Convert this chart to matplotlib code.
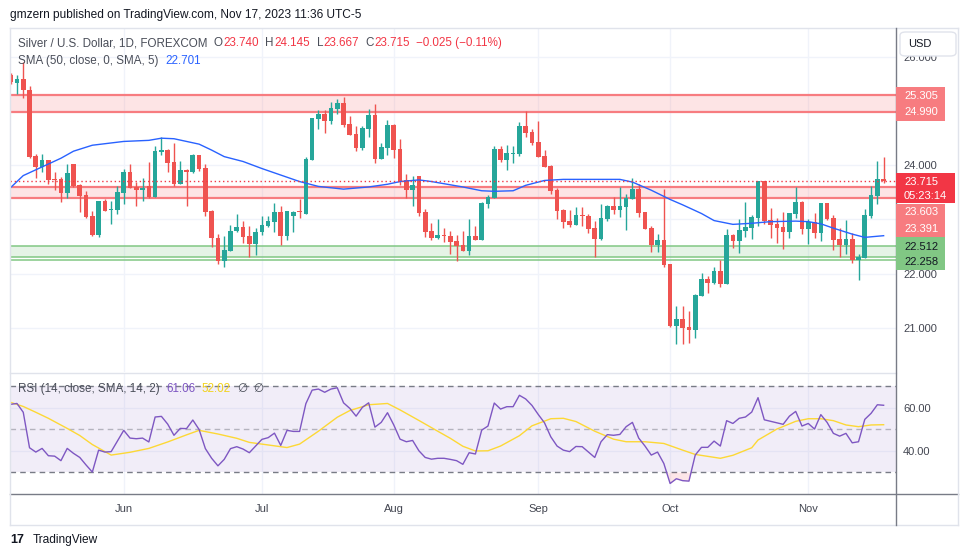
import numpy as np
import pandas as pd
import matplotlib
matplotlib.use("Agg")
from matplotlib import pyplot as plt
from matplotlib.patches import Rectangle, FancyBboxPatch
from matplotlib.lines import Line2D

plt.rcParams["font.family"] = ["Liberation Sans", "DejaVu Sans"]

# daily bars (weekdays) May 8 - Nov 17 2023
dates = pd.bdate_range("2023-05-08", "2023-11-17")

opens = [25.67, 25.52, 25.59, 25.39, 24.17, 23.96, 24.10, 23.75, 23.75, 23.48,
         24.02, 23.64, 23.45, 23.06, 22.71, 23.34, 23.18, 23.17, 23.49, 23.87,
         23.60, 23.54, 23.61, 23.41, 24.25, 24.28, 24.06, 23.66, 23.91, 23.88,
         24.19, 23.95, 23.16, 22.66, 22.24, 22.42, 22.78, 22.86, 22.69, 22.55,
         22.76, 22.88, 22.96, 23.14, 22.70, 23.07, 23.14, 23.10, 24.10, 24.85,
         24.95, 24.82, 25.04, 25.15, 24.76, 24.58, 24.32, 24.67, 24.93, 24.12,
         24.32, 24.74, 24.30, 23.72, 23.54, 23.80, 23.14, 22.79, 22.66, 22.71,
         22.70, 22.60, 22.53, 22.41, 22.70, 22.62, 23.29, 23.40, 24.30, 24.10,
         24.21, 24.21, 24.72, 24.61, 24.43, 24.17, 23.99, 23.54, 23.17, 22.97,
         22.90, 23.08, 23.06, 22.84, 22.64, 23.01, 23.25, 23.17, 23.23, 23.38,
         23.56, 23.14, 22.84, 22.53, 22.62, 22.18, 21.03, 21.16, 21.02, 20.96,
         21.59, 21.90, 21.83, 22.05, 21.81, 22.71, 22.60, 22.79, 22.84, 23.03,
         23.71, 22.99, 22.92, 22.86, 22.77, 23.10, 23.32, 22.82, 22.95, 22.75,
         23.30, 23.03, 22.64, 22.53, 22.64, 22.25, 22.29, 23.06, 23.44, 23.740]
highs = [25.70, 25.67, 25.91, 25.46, 24.21, 24.21, 24.10, 23.87, 23.78, 24.02,
         24.02, 23.65, 23.53, 23.16, 23.34, 23.37, 23.34, 23.62, 23.93, 24.02,
         23.70, 23.76, 24.06, 24.36, 24.52, 24.30, 24.41, 24.08, 23.93, 24.21,
         24.19, 24.02, 23.17, 22.73, 22.69, 22.90, 23.10, 22.97, 22.88, 22.84,
         23.06, 23.06, 23.30, 23.25, 23.16, 23.16, 23.38, 24.15, 24.87, 25.02,
         25.02, 25.17, 25.22, 25.26, 24.91, 24.72, 24.72, 25.04, 25.13, 24.41,
         24.84, 24.76, 24.48, 23.84, 23.80, 23.80, 23.19, 22.93, 23.01, 22.84,
         22.78, 22.71, 22.79, 23.01, 22.88, 23.32, 23.45, 24.36, 24.36, 24.37,
         24.36, 24.80, 25.00, 24.67, 24.82, 24.28, 24.01, 23.58, 23.19, 23.17,
         23.23, 23.23, 23.10, 22.97, 23.29, 23.27, 23.41, 23.60, 23.47, 23.77,
         23.65, 23.14, 22.88, 22.73, 23.56, 22.18, 21.40, 21.40, 21.31, 21.62,
         22.01, 21.96, 22.12, 22.25, 22.82, 22.73, 23.01, 23.32, 23.08, 23.71,
         23.71, 23.21, 23.03, 23.14, 23.12, 23.60, 23.34, 23.01, 23.12, 23.30,
         23.30, 23.08, 22.84, 22.99, 22.75, 22.36, 23.19, 23.62, 24.08, 24.145]
lows = [25.50, 25.31, 25.24, 24.13, 23.76, 23.88, 23.65, 23.55, 23.33, 23.40,
        23.60, 23.13, 23.03, 22.70, 22.68, 23.16, 22.92, 23.11, 23.29, 23.59,
        23.25, 23.35, 23.40, 23.41, 24.19, 23.88, 23.61, 23.66, 23.24, 23.85,
        23.90, 23.07, 22.50, 22.18, 22.13, 22.42, 22.76, 22.57, 22.30, 22.34,
        22.71, 22.86, 22.77, 22.53, 22.62, 22.76, 23.03, 23.10, 24.10, 24.67,
        24.60, 24.76, 24.95, 24.71, 24.56, 24.26, 24.28, 24.52, 24.04, 24.12,
        24.19, 24.13, 23.64, 23.40, 23.25, 23.06, 22.68, 22.62, 22.64, 22.58,
        22.36, 22.24, 22.41, 22.34, 22.62, 22.62, 23.21, 23.40, 24.06, 23.91,
        24.04, 24.17, 24.52, 24.37, 24.15, 23.97, 23.47, 23.01, 22.84, 22.86,
        22.90, 22.88, 22.75, 22.31, 22.62, 22.97, 23.10, 23.05, 22.81, 23.38,
        23.05, 22.82, 22.40, 22.40, 22.12, 21.02, 20.70, 20.70, 20.72, 20.81,
        21.59, 21.64, 21.81, 21.75, 21.81, 22.47, 22.38, 22.68, 22.64, 22.88,
        22.92, 22.66, 22.57, 22.45, 22.66, 23.03, 22.73, 22.55, 22.66, 22.60,
        22.99, 22.44, 22.31, 22.36, 22.20, 21.88, 22.29, 23.03, 23.29, 23.667]
closes = [25.53, 25.59, 25.38, 24.16, 23.96, 24.10, 23.73, 23.73, 23.48, 23.86,
          23.62, 23.44, 23.05, 22.71, 23.34, 23.16, 23.19, 23.51, 23.87, 23.59,
          23.54, 23.59, 23.41, 24.26, 24.28, 24.04, 23.66, 23.91, 23.88, 24.19,
          23.94, 23.14, 22.65, 22.24, 22.44, 22.79, 22.86, 22.68, 22.55, 22.77,
          22.90, 22.97, 23.14, 22.70, 23.16, 23.14, 23.13, 24.12, 24.87, 24.95,
          24.82, 25.06, 25.15, 24.74, 24.56, 24.32, 24.69, 24.93, 24.12, 24.34,
          24.74, 24.28, 23.70, 23.54, 23.64, 23.12, 22.77, 22.66, 22.71, 22.70,
          22.58, 22.51, 22.41, 22.70, 22.62, 23.30, 23.41, 24.30, 24.10, 24.23,
          24.23, 24.72, 24.60, 24.41, 24.15, 23.97, 23.53, 23.16, 22.95, 22.90,
          23.08, 23.06, 22.82, 22.64, 23.03, 23.25, 23.17, 23.25, 23.40, 23.56,
          23.12, 22.82, 22.53, 22.62, 22.16, 21.03, 21.16, 21.00, 20.96, 21.61,
          21.90, 21.83, 22.05, 21.81, 22.71, 22.60, 22.81, 22.86, 23.04, 23.71,
          22.97, 22.90, 22.84, 22.77, 23.12, 23.32, 22.82, 22.95, 22.75, 23.30,
          23.01, 22.62, 22.53, 22.64, 22.25, 22.31, 23.08, 23.45, 23.74, 23.715]

# SMA 50 (smoothed) at a set of bars
sma_bars = [0, 2, 5, 8, 10, 13, 18, 22, 24, 26, 28, 30, 32, 34, 37, 40, 43, 46,
            49, 53, 57, 60, 62, 65, 67, 70, 72, 75, 77, 80, 82, 85, 88, 93, 97,
            99, 102, 105, 107, 110, 112, 115, 118, 121, 125, 127, 129, 131, 134,
            136, 139]
sma_vals = [23.59, 23.81, 23.97, 24.13, 24.26, 24.37, 24.44, 24.46, 24.50, 24.49,
            24.44, 24.39, 24.28, 24.16, 24.07, 23.94, 23.82, 23.70, 23.61, 23.56,
            23.60, 23.65, 23.70, 23.73, 23.70, 23.64, 23.60, 23.53, 23.52, 23.53,
            23.63, 23.72, 23.74, 23.74, 23.74, 23.69, 23.54, 23.37, 23.27, 23.11,
            22.98, 22.91, 22.93, 22.96, 22.97, 22.96, 22.92, 22.84, 22.73, 22.67,
            22.701]

rsi_vals = [61.5, 61.9, 57.8, 41.3, 39.3, 41.0, 37.6, 37.4, 35.3, 41.0,
            38.7, 36.8, 33.3, 30.0, 40.2, 39.3, 39.5, 44.4, 49.4, 45.8,
            45.5, 45.8, 44.0, 55.6, 55.9, 52.3, 47.1, 50.3, 50.2, 54.2,
            49.8, 40.9, 36.4, 32.9, 35.9, 40.9, 41.8, 40.7, 39.0, 42.1,
            45.2, 46.0, 48.1, 42.4, 49.4, 48.9, 48.9, 61.8, 68.1, 68.6,
            67.1, 68.6, 69.2, 62.2, 59.6, 56.0, 60.1, 62.2, 50.9, 53.1,
            57.6, 51.9, 45.3, 44.1, 44.7, 39.9, 36.8, 36.0, 36.4, 36.4,
            35.9, 35.3, 33.6, 39.0, 38.4, 49.5, 51.4, 62.1, 59.3, 60.4,
            60.4, 65.7, 64.0, 61.0, 56.8, 52.9, 46.4, 42.1, 40.2, 39.5,
            41.9, 41.8, 39.3, 36.8, 44.1, 47.4, 47.1, 47.5, 51.1, 53.1,
            45.8, 42.1, 37.9, 39.3, 34.0, 24.7, 26.9, 26.0, 25.8, 37.9,
            41.5, 41.5, 44.4, 42.1, 53.9, 52.6, 55.0, 55.6, 57.9, 64.6,
            54.3, 53.6, 52.9, 52.2, 56.0, 58.2, 51.4, 52.6, 50.0, 56.7,
            53.1, 48.0, 46.7, 48.0, 43.6, 44.1, 54.5, 57.3, 61.3, 61.06]

rsi_sma_bars = [0, 2, 4, 6, 9, 11, 13, 16, 19, 22, 25, 28, 30, 33, 36, 38, 41, 44,
                46, 49, 52, 54, 57, 60, 62, 65, 68, 70, 72, 74, 76, 78, 81, 83, 86,
                88, 90, 93, 96, 98, 101, 104, 107, 109, 113, 115, 118, 119, 122,
                125, 127, 129, 131, 133, 135, 137, 139]
rsi_sma_vals = [62.4, 60.5, 57.8, 55.0, 50.3, 47.0, 42.8, 37.9, 39.2, 41.0, 44.0,
                47.3, 49.4, 47.7, 45.7, 43.8, 42.6, 41.4, 43.0, 49.0, 55.5, 58.6,
                61.3, 61.9, 58.9, 54.0, 49.0, 45.7, 42.0, 39.8, 39.9, 42.1, 46.9,
                51.5, 54.8, 55.0, 53.5, 49.0, 45.3, 44.1, 44.1, 43.3, 40.2, 38.2,
                36.4, 37.8, 41.3, 44.9, 50.0, 53.6, 54.8, 54.8, 53.9, 51.9, 51.1,
                51.9, 52.02]

resist_hi = (24.990, 25.305)
resist_lo = (23.391, 23.603)
support = (22.512, 22.258)
support_mid = 22.31
last_price = 23.715
price_ticks = [21, 22, 23, 24, 25, 26]
rsi_ticks = [40, 60]

TEAL = "#26A69A"
RED = "#EF5350"
SALMON = "#F77C80"
GREEN = "#81C784"
GRID = "#F0F3FA"
TXT = "#131722"
AXT = "#434651"
LEG = "#4A4E59"
VAL = "#F23645"

W, H = 970, 557
fig = plt.figure(figsize=(W / 100, H / 100), dpi=100)
renderer = fig.canvas.get_renderer()


def rect(x0, y0, x1, y1):
    return [x0 / W, 1 - y1 / H, (x1 - x0) / W, (y1 - y0) / H]


def ftext(px, py, s, **kw):
    kw.setdefault("va", "center")
    kw.setdefault("fontsize", 8)
    kw.setdefault("zorder", 6)
    return fig.text(px / W, 1 - py / H, s, **kw)


def chain(px, py, parts, gap=0.5, **kw):
    # write the pieces one after the other on one line
    kw.setdefault("fontsize", 8.4)
    for s, cl in parts:
        t = ftext(px, py, s, color=cl, **kw)
        px += t.get_window_extent(renderer=renderer).width + gap
    return px


def hline(py, x0, x1, color, lw=1.0):
    fig.add_artist(Line2D([x0 / W, x1 / W], [1 - py / H] * 2, color=color, lw=lw))


def vline(px, y0, y1, color, lw=1.0):
    fig.add_artist(Line2D([px / W] * 2, [1 - y0 / H, 1 - y1 / H], color=color, lw=lw))


def box(x0, y0, x1, y1, color):
    fig.add_artist(Rectangle((x0 / W, 1 - y1 / H), (x1 - x0) / W, (y1 - y0) / H,
                             transform=fig.transFigure, facecolor=color,
                             edgecolor="none", zorder=5))


ax = fig.add_axes(rect(10, 28, 896, 372))
ax_rsi = fig.add_axes(rect(10, 374, 896, 494), sharex=ax)

x = np.arange(len(dates))
o, h, l, c = map(np.array, (opens, highs, lows, closes))
col = np.where(c >= o, TEAL, RED)

month_idx = [i for i in range(1, len(dates)) if dates[i].month != dates[i - 1].month]
month_lab = [dates[i].strftime("%b") for i in month_idx]

# ---- price pane
for v in price_ticks:
    ax.axhline(v, color=GRID, lw=1, zorder=0)
for m in month_idx:
    ax.axvline(m, color=GRID, lw=1, zorder=0)

for lo_, hi_ in (resist_hi, resist_lo):
    ax.axhspan(lo_, hi_, color=SALMON, alpha=0.2, lw=0, zorder=1)
    ax.axhline(lo_, color=SALMON, lw=1.6, zorder=2)
    ax.axhline(hi_, color=SALMON, lw=1.6, zorder=2)
ax.axhspan(support_mid, support[0], color=GREEN, alpha=0.2, lw=0, zorder=1)
for v in (support[0], support_mid, support[1]):
    ax.axhline(v, color=GREEN, lw=1.1, zorder=2)

ax.vlines(x, l, h, colors=col, lw=1, zorder=3)
ax.bar(x, np.maximum(np.abs(c - o), 0.018), bottom=np.minimum(o, c), width=0.74,
       color=col, lw=0, zorder=4)
ax.plot(sma_bars, sma_vals, color="#2962FF", lw=1, zorder=5)
ax.axhline(last_price, color="#F23645", lw=1, ls=(0, (1, 2)), zorder=5)

ax.set_xlim(-0.11, 140.97)
ax.set_ylim(20.186, 26.533)
ax.yaxis.tick_right()
ax.set_yticks(price_ticks, [f"{v:.3f}" for v in price_ticks])
ax.tick_params(axis="y", length=0, pad=5, labelsize=8, labelcolor=AXT)
ax.tick_params(axis="x", length=0, labelbottom=False)
for s in ax.spines.values():
    s.set_visible(False)

# ---- RSI pane
for v in rsi_ticks:
    ax_rsi.axhline(v, color=GRID, lw=1, zorder=0)
for m in month_idx:
    ax_rsi.axvline(m, color=GRID, lw=1, zorder=0)
ax_rsi.axhspan(30, 70, color="#7E57C2", alpha=0.1, lw=0, zorder=1)
ax_rsi.axhline(70, color="#787B86", lw=1, ls=(0, (4, 3)), zorder=2)
ax_rsi.axhline(50, color="#787B86", lw=1, ls=(0, (4, 3)), alpha=0.5, zorder=2)
ax_rsi.axhline(30, color="#787B86", lw=1, ls=(0, (4, 3)), zorder=2)
rsi = np.array(rsi_vals)
ax_rsi.fill_between(x, rsi, 30, where=rsi < 30, interpolate=True,
                    color="#F23645", alpha=0.12, lw=0, zorder=2)
ax_rsi.plot(x, rsi, color="#7E57C2", lw=1, zorder=4)
ax_rsi.plot(rsi_sma_bars, rsi_sma_vals, color="#FDD835", lw=1, zorder=3)
ax_rsi.set_ylim(19.8, 75.6)
ax_rsi.yaxis.tick_right()
ax_rsi.set_yticks(rsi_ticks, [f"{v:.2f}" for v in rsi_ticks])
ax_rsi.tick_params(axis="y", length=0, pad=5, labelsize=8, labelcolor=AXT)
ax_rsi.set_xticks(month_idx, month_lab)
ax_rsi.tick_params(axis="x", length=0, pad=7, labelsize=8, labelcolor=AXT)
for s in ax_rsi.spines.values():
    s.set_visible(False)

# ---- frame lines
hline(27.5, 10, 958, "#E0E3EB")
hline(373, 10, 896, "#E0E3EB")
hline(494, 10, 958, "#787B86")
hline(525, 10, 958, "#E0E3EB")
vline(10, 27.5, 525, "#E0E3EB")
vline(958, 27.5, 525, "#E0E3EB")
vline(896, 27.5, 525, "#787B86")

# ---- price labels on the right axis
box(896.5, 87, 945, 120.5, SALMON)
ftext(904, 95.7, f"{resist_hi[1]:.3f}", color="white")
ftext(904, 112.3, f"{resist_hi[0]:.3f}", color="white")
box(896.5, 173.3, 955, 203.3, "#F23645")
ftext(904, 181.7, f"{last_price:.3f}", color="white")
ftext(904, 195.7, "05:23:14", color="white")
box(896.5, 204, 945, 236.7, SALMON)
ftext(904, 212.3, f"{resist_lo[1]:.3f}", color="white")
ftext(904, 229.3, f"{resist_lo[0]:.3f}", color="white")
box(896.5, 237.3, 945, 270, GREEN)
ftext(904, 246.8, f"{support[0]:.3f}", color=TXT)
ftext(904, 262.3, f"{support[1]:.3f}", color=TXT)

fig.add_artist(FancyBboxPatch((900 / W, 1 - 56 / H), 56 / W, 24 / H,
                              boxstyle="round,pad=0,rounding_size=0.006",
                              transform=fig.transFigure, facecolor="white",
                              edgecolor="#E0E3EB", lw=1, zorder=5))
ftext(908, 44, "USD", color=TXT)

# ---- header and legends
ftext(10, 15, "gmzern published on TradingView.com, Nov 17, 2023 11:36 UTC-5",
      color=TXT, fontsize=8.6)
end = chain(18, 43, [("Silver / U.S. Dollar, 1D, FOREXCOM", LEG)])
end = chain(end + 6, 43, [("O", LEG), (f"{opens[-1]:.3f}", VAL)])
end = chain(end + 6, 43, [("H", LEG), (f"{highs[-1]:.3f}", VAL)])
end = chain(end + 6, 43, [("L", LEG), (f"{lows[-1]:.3f}", VAL)])
end = chain(end + 6, 43, [("C", LEG), (f"{closes[-1]:.3f}", VAL)])
chain(end + 6, 43, [("\u22120.025 (\u22120.11%)", VAL)])
end = chain(18, 61, [("SMA (50, close, 0, SMA, 5)", LEG)])
chain(end + 6, 61, [(f"{sma_vals[-1]:.3f}", "#2962FF")])

end = chain(18, 389, [("RSI (14, close, SMA, 14, 2)", LEG)])
end = chain(end + 6, 389, [(f"{rsi_vals[-1]:.2f}", "#7E57C2")])
end = chain(end + 6, 389, [(f"{rsi_sma_vals[-1]:.2f}", "#F2D21B")])
end = chain(end + 6, 389, [("\u2205", LEG)])
chain(end + 5, 389, [("\u2205", LEG)])

# ---- footer logo
ftext(10, 540, "17", color=TXT, fontsize=9, fontweight="heavy")
ftext(33, 540, "TradingView", color=TXT, fontsize=8.6)

fig.savefig("out.png", dpi=100)
